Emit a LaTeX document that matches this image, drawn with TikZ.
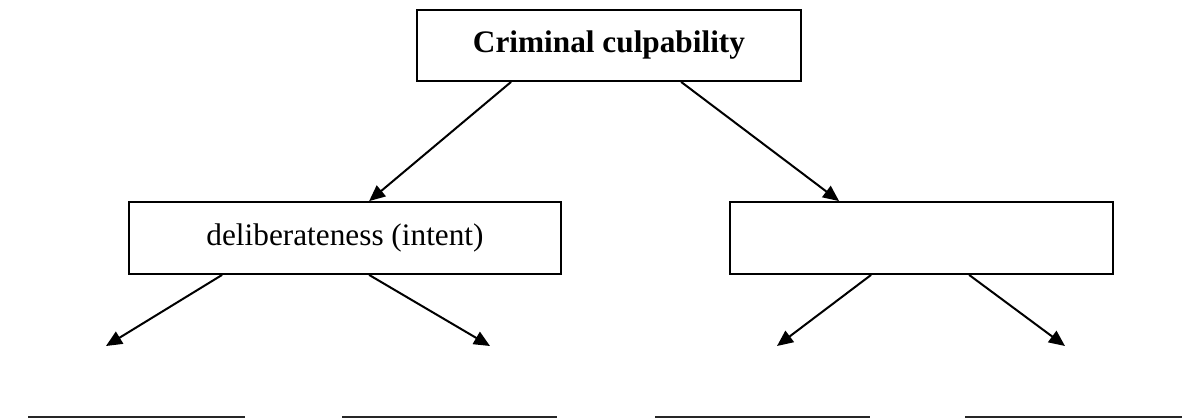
\documentclass[tikz,border=0pt]{standalone}
\usepackage{fontspec}
\setmainfont{Liberation Serif}
\usetikzlibrary{arrows.meta}
\begin{document}
\begin{tikzpicture}[x=1bp,y=-1bp,
  box/.style={draw, line width=1.8bp, inner sep=0pt, font=\fontsize{31.4}{36}\selectfont},
  conn/.style={line width=2bp, -{Triangle[length=16bp,width=14bp]}},
  blank/.style={line width=2bp, draw=black!85}]
\useasboundingbox (0,0) rectangle (1182,419);
\node[box, minimum width=384bp, minimum height=71bp, font=\fontsize{31.4}{36}\selectfont\bfseries] (top) at (609,45.5) {Criminal culpability};
\node[box, minimum width=432bp, minimum height=72bp] (left) at (345,238) {\raisebox{2bp}{deliberateness (intent)}};
\node[box, minimum width=383bp, minimum height=72bp] (right) at (921.5,238) {};
\coordinate (t1) at (106,346);
\coordinate (t2) at (490,346);
\coordinate (t3) at (777,346);
\coordinate (t4) at (1065,346);
\draw[conn] ([xshift=95bp]top.south west) -- ([xshift=241bp]left.north west);
\draw[conn] ([xshift=265bp]top.south west) -- ([xshift=110bp]right.north west);
\draw[conn] ([xshift=94bp]left.south west) -- (t1);
\draw[conn] ([xshift=241bp]left.south west) -- (t2);
\draw[conn] ([xshift=142bp]right.south west) -- (t3);
\draw[conn] ([xshift=240bp]right.south west) -- (t4);
\draw[blank] (28,417) -- (245,417);
\draw[blank] (342,417) -- (557,417);
\draw[blank] (655,417) -- (870,417);
\draw[blank] (965,417) -- (1182,417);
\end{tikzpicture}
\end{document}
